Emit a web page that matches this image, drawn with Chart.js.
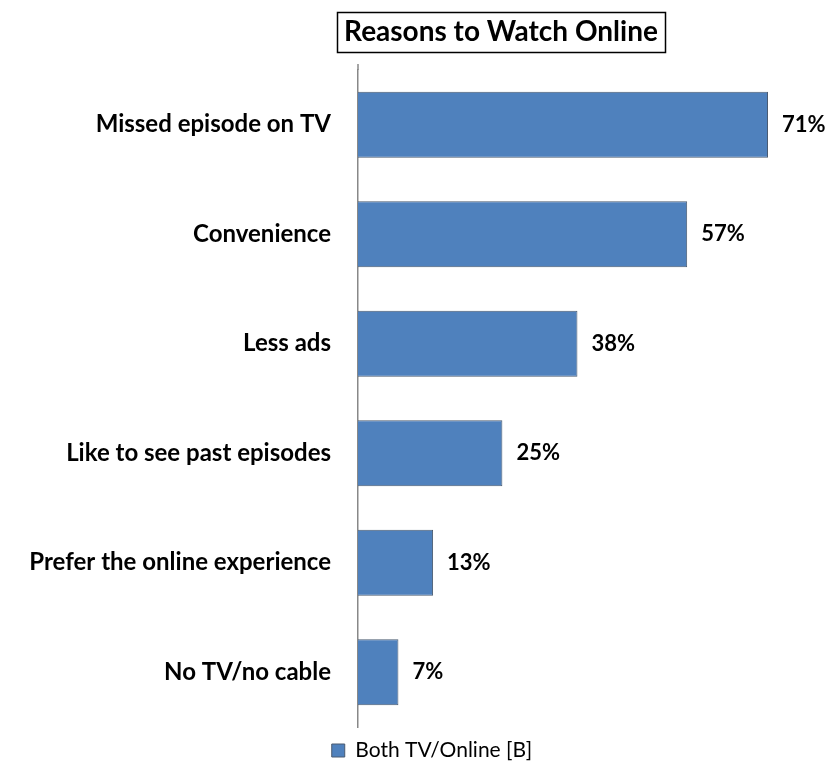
<!DOCTYPE html>
<html>
<head>
<meta charset="utf-8">
<script src="https://cdn.jsdelivr.net/npm/chart.js@4"></script>
<style>
  html, body { margin: 0; padding: 0; background: #fff; }
  #wrap { width: 837px; height: 771px; position: relative; }
</style>
</head>
<body>
<div id="wrap"><canvas id="reasonsChart"></canvas></div>
<script>
const chartTitle = "Reasons to Watch Online";
const reasons = [
  "Missed episode on TV",
  "Convenience",
  "Less ads",
  "Like to see past episodes",
  "Prefer the online experience",
  "No TV/no cable"
];
const bothTvOnline = [71, 57, 38, 25, 13, 7];
const seriesName = "Both TV/Online [B]";

const fontFamily = "Lato, 'Open Sans', sans-serif";

// boxed title above the plot
const boxedTitle = {
  id: "boxedTitle",
  afterDraw(chart) {
    const ctx = chart.ctx;
    ctx.save();
    ctx.font = `bold 28px ${fontFamily}`;
    ctx.fillStyle = "#000";
    ctx.textAlign = "center";
    ctx.textBaseline = "middle";
    const cx = 501, cy = 32;
    const w = ctx.measureText(chartTitle).width;
    ctx.fillText(chartTitle, cx, cy);
    ctx.strokeStyle = "#000";
    ctx.lineWidth = 1.5;
    ctx.strokeRect(Math.round(cx - w / 2 - 7) + 0.5, 12.5, Math.round(w + 14), 40);
    ctx.restore();
  }
};

// percentage labels after each bar
const valueLabels = {
  id: "valueLabels",
  afterDatasetsDraw(chart) {
    const ctx = chart.ctx;
    const meta = chart.getDatasetMeta(0);
    ctx.save();
    ctx.font = `bold 22px ${fontFamily}`;
    ctx.fillStyle = "#000";
    ctx.textAlign = "left";
    ctx.textBaseline = "middle";
    meta.data.forEach((bar, i) => {
      ctx.fillText(bothTvOnline[i] + "%", bar.x + 14, bar.y);
    });
    ctx.restore();
  }
};

// axis line runs a little above the first category band
const axisStub = {
  id: "axisStub",
  afterDraw(chart) {
    const y = chart.scales.y;
    const ctx = chart.ctx;
    ctx.save();
    ctx.strokeStyle = "#888";
    ctx.lineWidth = 1.5;
    ctx.beginPath();
    ctx.moveTo(y.right, chart.chartArea.top - 6);
    ctx.lineTo(y.right, chart.chartArea.top);
    ctx.stroke();
    ctx.restore();
  }
};

// centre the legend a bit to the right, under the bars
const legendShift = {
  id: "legendShift",
  afterLayout(chart) {
    if (chart.legend) {
      chart.legend.left += 22;
      chart.legend.right += 22;
    }
  }
};

new Chart(document.getElementById("reasonsChart"), {
  type: "bar",
  data: {
    labels: reasons,
    datasets: [{
      label: seriesName,
      data: bothTvOnline,
      backgroundColor: "#4f81bd",
      borderColor: "#4a5b70",
      borderWidth: 1,
      categoryPercentage: 1,
      barPercentage: 0.605
    }]
  },
  options: {
    indexAxis: "y",
    responsive: true,
    maintainAspectRatio: false,
    animation: false,
    layout: { padding: { top: 70, right: 17, bottom: 0, left: 0 } },
    scales: {
      x: {
        display: false,
        min: 0,
        max: 80
      },
      y: {
        afterFit(scale) { scale.width = 358; },
        grid: { display: true, drawOnChartArea: false, drawTicks: false },
        border: { display: true, color: "#888", width: 1.5 },
        ticks: {
          padding: 27,
          color: "#000",
          font: { family: fontFamily, size: 24, weight: "bold" }
        }
      }
    },
    plugins: {
      title: { display: false },
      tooltip: { enabled: false },
      legend: {
        position: "bottom",
        labels: {
          color: "#000",
          boxWidth: 13,
          boxHeight: 13,
          padding: 13,
          font: { family: fontFamily, size: 21 }
        }
      }
    }
  },
  plugins: [boxedTitle, valueLabels, axisStub, legendShift]
});
</script>
</body>
</html>
